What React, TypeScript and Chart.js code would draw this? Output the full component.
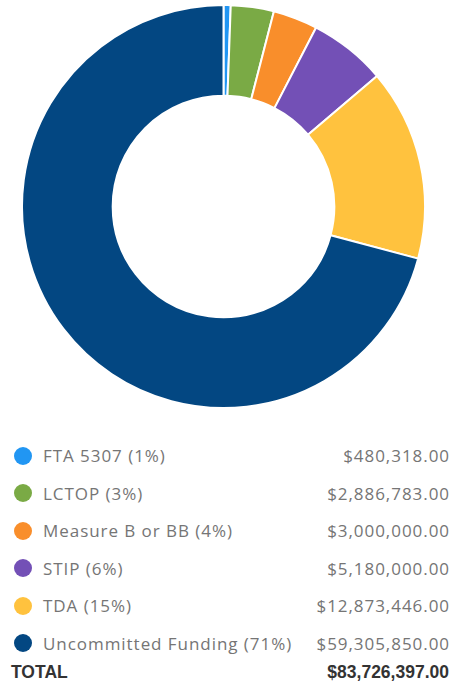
import React, { useEffect, useRef } from "react";
import { Chart, registerables } from "chart.js";

Chart.register(...registerables);

const labels = ["FTA 5307", "LCTOP", "Measure B or BB", "STIP", "TDA", "Uncommitted Funding"];
const values = [480318, 2886783, 3000000, 5180000, 12873446, 59305850];
const percents = ["1%", "3%", "4%", "6%", "15%", "71%"];
const amountLabels = ["$480,318.00", "$2,886,783.00", "$3,000,000.00", "$5,180,000.00", "$12,873,446.00", "$59,305,850.00"];
const totalLabel = "$83,726,397.00";
const colors = ["#2196F3", "#7AAA45", "#F98E2B", "#7350B6", "#FFC23E", "#034782"];

export default function App() {
  const ref = useRef<HTMLCanvasElement | null>(null);

  useEffect(() => {
    document.body.style.margin = "0";
    if (!ref.current) return;
    const chart = new Chart(ref.current, {
      type: "doughnut",
      data: {
        labels,
        datasets: [
          {
            data: values,
            backgroundColor: colors,
            borderColor: "#ffffff",
            borderWidth: 2,
            hoverOffset: 0,
          },
        ],
      },
      options: {
        animation: false,
        responsive: true,
        maintainAspectRatio: false,
        cutout: "55%",
        layout: { padding: 0 },
        plugins: { legend: { display: false }, tooltip: { enabled: false } },
      },
    });
    return () => chart.destroy();
  }, []);

  const rowStyle: React.CSSProperties = {
    position: "absolute",
    left: 0,
    width: 452,
    height: 38,
    display: "flex",
    alignItems: "center",
  };

  const textStyle: React.CSSProperties = {
    position: "absolute",
    fontFamily: "'Open Sans', sans-serif",
    fontSize: 17,
    letterSpacing: "0.95px",
    color: "#757575",
    whiteSpace: "nowrap",
  };

  const boldStyle: React.CSSProperties = {
    position: "absolute",
    fontFamily: "'Liberation Sans', Arial, sans-serif",
    fontWeight: 700,
    fontSize: 17.5,
    color: "#333",
    whiteSpace: "nowrap",
  };

  return (
    <div style={{ position: "relative", width: 452, height: 686, background: "#fff" }}>
      <div style={{ position: "absolute", left: 21, top: 4, width: 405, height: 405 }}>
        <canvas ref={ref} />
      </div>
      {labels.map((l, i) => (
        <div key={l} style={{ ...rowStyle, top: 436.5 + i * 37.5 }}>
          <span
            style={{
              position: "absolute",
              left: 14,
              width: 18,
              height: 18,
              borderRadius: "50%",
              background: colors[i],
            }}
          />
          <span style={{ ...textStyle, left: 43 }}>
            {l} ({percents[i]})
          </span>
          <span style={{ ...textStyle, right: 2 }}>{amountLabels[i]}</span>
        </div>
      ))}
      <div style={{ ...rowStyle, top: 653 }}>
        <span style={{ ...boldStyle, left: 11 }}>TOTAL</span>
        <span style={{ ...boldStyle, right: 3 }}>{totalLabel}</span>
      </div>
    </div>
  );
}
